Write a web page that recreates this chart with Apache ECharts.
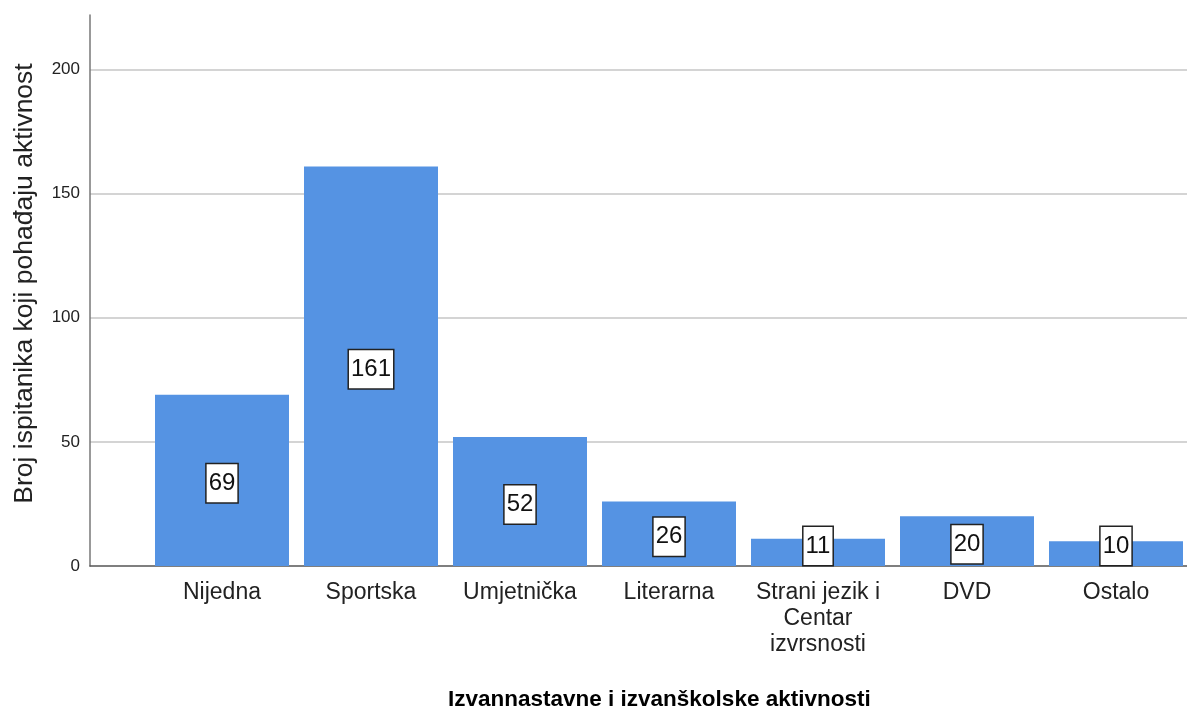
<!DOCTYPE html>
<html>
<head>
<meta charset="utf-8">
<title>Izvannastavne i izvanškolske aktivnosti</title>
<script src="https://cdn.jsdelivr.net/npm/echarts@6/dist/echarts.min.js"></script>
<style>
  html, body { margin: 0; padding: 0; background: #fff; }
  #activityChart { width: 1187px; height: 708px; }
</style>
</head>
<body>
<div id="activityChart"></div>
<script>
// categories and counts
const activities = [
  "Nijedna",
  "Sportska",
  "Umjetnička",
  "Literarna",
  "Strani jezik i\nCentar\nizvrsnosti",
  "DVD",
  "Ostalo",
];
const counts = [69, 161, 52, 26, 11, 20, 10];
const yTicks = [0, 50, 100, 150, 200];
const yMax = 222;

// short bars get their label pushed to the bottom, like SPSS does
const smallBar = 15;

const barColor = "#5593e3";
const fontName = "'Liberation Sans', Arial, sans-serif";

const chart = echarts.init(document.getElementById("activityChart"));

chart.setOption({
  backgroundColor: "#fff",
  animation: false,
  title: {
    text: "Izvannastavne i izvanškolske aktivnosti",
    left: 443,
    top: 683,
    textStyle: {
      fontFamily: fontName,
      fontSize: 22.5,
      fontWeight: "bold",
      color: "#000",
    },
  },
  grid: [
    // grid 0: y axis, gridlines and baseline
    { left: 90, right: 0, top: 15, bottom: 142, outerBoundsMode: "none" },
    // grid 1: the bars, shifted right of the axis (last bar touches the edge)
    { left: 147.5, width: 1043, top: 15, bottom: 142, outerBoundsMode: "none" },
  ],
  xAxis: [
    {
      gridIndex: 0,
      type: "category",
      data: [""],
      axisLine: { show: true, lineStyle: { color: "#555", width: 1.5 } },
      axisTick: { show: false },
      axisLabel: { show: false },
    },
    {
      gridIndex: 1,
      type: "category",
      data: activities,
      axisLine: { show: false },
      axisTick: { show: false },
      axisLabel: {
        fontFamily: fontName,
        fontSize: 23,
        color: "#222",
        lineHeight: 26,
        margin: 14,
        interval: 0,
      },
    },
  ],
  yAxis: [
    {
      gridIndex: 0,
      type: "value",
      min: 0,
      max: yMax,
      interval: 50,
      name: "Broj ispitanika koji pohađaju aktivnost",
      nameLocation: "middle",
      nameGap: 52,
      nameTextStyle: {
        fontFamily: fontName,
        fontSize: 26.5,
        color: "#222",
        padding: [0, 0, 0, 14],
      },
      axisLine: { show: true, lineStyle: { color: "#777", width: 1.5 } },
      axisTick: { show: false },
      axisLabel: {
        fontFamily: fontName,
        fontSize: 17,
        color: "#222",
        margin: 10,
        formatter: (v) => (yTicks.includes(v) ? String(v) : ""),
      },
      splitLine: {
        show: true,
        showMaxLine: false,
        showMinLine: false,
        lineStyle: { color: "#d4d4d4", width: 2 },
      },
    },
    {
      gridIndex: 1,
      type: "value",
      min: 0,
      max: yMax,
      show: false,
      splitLine: { show: false },
    },
  ],
  series: [
    {
      type: "bar",
      xAxisIndex: 1,
      yAxisIndex: 1,
      barWidth: 134,
      itemStyle: { color: barColor },
      data: counts.map((v) =>
        v < smallBar
          ? { value: v, label: { position: "insideBottom", distance: 1, offset: [0, 0] } }
          : v
      ),
      label: {
        show: true,
        position: "inside",
        offset: [0, 3],
        fontFamily: fontName,
        fontSize: 24,
        lineHeight: 26,
        color: "#111",
        backgroundColor: "#fff",
        borderColor: "#222",
        borderWidth: 1.5,
        padding: [6, 2, 6, 2],
      },
    },
  ],
});
</script>
</body>
</html>
